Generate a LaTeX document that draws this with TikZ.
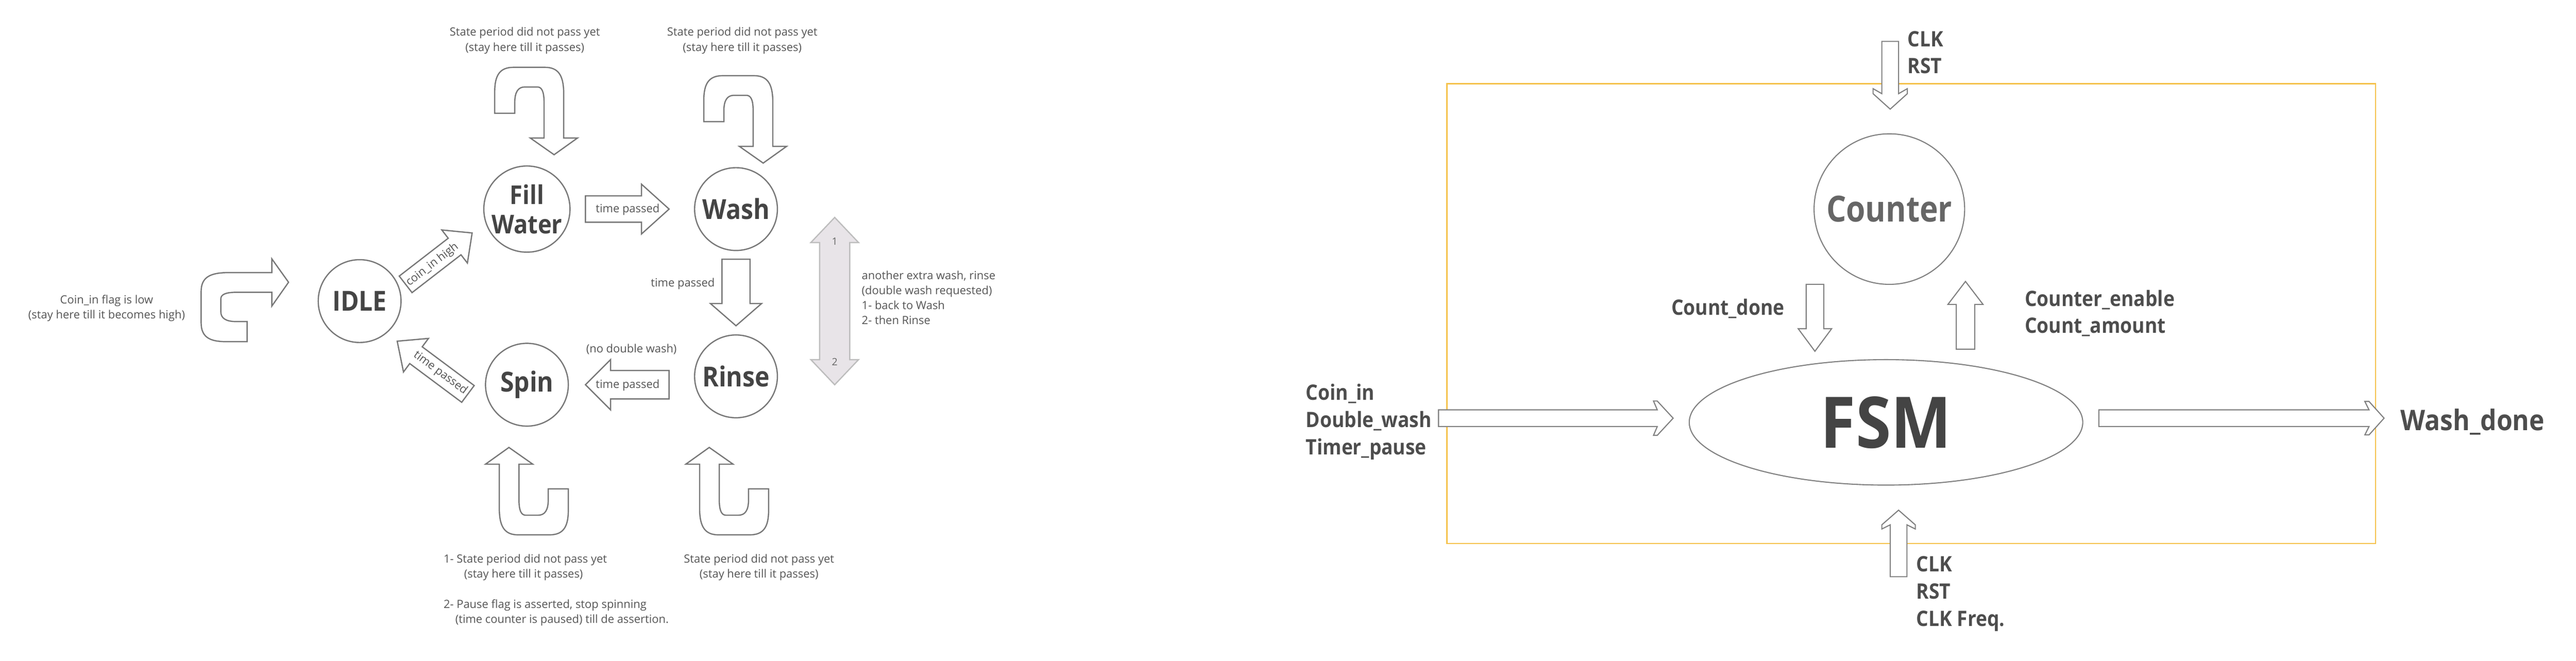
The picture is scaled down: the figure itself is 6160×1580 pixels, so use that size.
\documentclass[tikz,border=0pt]{standalone}
\usepackage{fontspec}
\setmainfont{Open Sans}
\newfontfamily\headfont[FakeStretch=0.9]{Open Sans}
\usetikzlibrary{shapes.geometric}
\definecolor{cstroke}{HTML}{777777}
\definecolor{ctext}{HTML}{444444}
\definecolor{clabel}{HTML}{555555}
\definecolor{rstroke}{HTML}{808080}
\definecolor{rtext}{HTML}{4D4D4D}
\definecolor{ctrtext}{HTML}{666666}
\definecolor{cyellow}{HTML}{F5C24C}
\definecolor{dfill}{HTML}{E8E4E8}
\definecolor{dstroke}{HTML}{BDBDBD}
\definecolor{numtext}{HTML}{666666}
\tikzset{
  state/.style={circle, draw=cstroke, line width=0.75pt, minimum size=49.5pt, inner sep=0pt,
    text=ctext, font=\headfont\bfseries\fontsize{16.5}{17.5}\selectfont, align=center},
  lbl/.style={text=clabel, font=\fontsize{6.75}{9}\selectfont, inner sep=0pt},
  blockarr/.style={draw=cstroke, line width=0.75pt, fill=white, line join=miter},
  thinarr/.style={draw=rstroke, line width=0.65pt, fill=white, line join=miter},
  dblarr/.style={draw=dstroke, line width=0.75pt, fill=dfill, line join=miter},
  rlbl/.style={text=rtext, font=\headfont\bfseries\fontsize{12.7}{16.25}\selectfont, inner sep=0pt, align=left},
}
% straight block arrow: [style] {tail x,y}{angle}{length}{shaft half width}{head half width}{head length}
\newcommand\blockarrow[7][]{%
  \draw[blockarr,#1,shift={(#2)},rotate=#3]
    (0,-#5) -- ({#4-#7},-#5) -- ({#4-#7},-#6) -- (#4,0) -- ({#4-#7},#6) -- ({#4-#7},#5) -- (0,#5) -- cycle;}
% thin arrow with notched barbs
\newcommand\notcharrow[8][]{%
  \draw[thinarr,#1,shift={(#2)},rotate=#3]
    (0,-#5) -- ({#4-#7},-#5) -- ({#4-#7-#8},-#6) -- ({#4-#7},-#6) -- (#4,0)
    -- ({#4-#7},#6) -- ({#4-#7-#8},#6) -- ({#4-#7},#5) -- (0,#5) -- cycle;}
% U-turn self-loop arrow, given its tip and rotation
\newcommand\selfloop[2]{%
  \draw[blockarr,shift={(#1)},rotate=#2]
    (-142,-99) -- (-142,-150) .. controls (-142,-190) and (-130,-209) .. (-97,-209)
    -- (-22,-209) .. controls (10,-209) and (22,-190) .. (23,-150)
    -- (23,-40) -- (56,-40) -- (0,0) -- (-57,-40) -- (-24,-40)
    -- (-24,-125) .. controls (-24,-150) and (-29,-162) .. (-40,-162)
    -- (-70,-162) .. controls (-86,-162) and (-94,-150) .. (-94,-125)
    -- (-94,-99) -- cycle;}
\begin{document}
\begin{tikzpicture}[x=0.25pt,y=-0.25pt]
\useasboundingbox (0,0) rectangle (6160,1580);
\fill[white] (0,0) rectangle (6160,1580);

% ---------------- left: state diagram ----------------
\node[state] (idle) at (860,720) {IDLE};
\node[state, font=\headfont\bfseries\fontsize{15.5}{17.5}\selectfont] (fill) at (1260,500) {Fill\\Water};
\node[state] (wash) at (1760,500) {Wash};
\node[state] (spin) at (1260,920) {Spin};
\node[state] (rinse) at (1760,900) {Rinse};

% self loops
\selfloop{690,675}{90}
\selfloop{1325,370}{0}
\selfloop{1825,390}{0}
\selfloop{1217,1070}{180}
\selfloop{1696,1070}{180}

% transitions
\blockarrow{970,680}{37.7}{201}{25}{50}{53}
\blockarrow{1119,942}{143.3}{211}{25}{50}{56}
\blockarrow{1400,500}{0}{200}{31.5}{59.5}{66}
\blockarrow{1760,620}{-90}{159}{33.5}{61}{53}
\blockarrow{1600,920}{180}{200}{34}{60}{60}

% double wash arrow
\draw[dblarr] (1996,520) -- (2053,580) -- (2032,580) -- (2032,860) -- (2053,860) -- (1996,920)
  -- (1939,860) -- (1960,860) -- (1960,580) -- (1939,580) -- cycle;
\node[lbl, text=numtext, font=\fontsize{6}{7}\selectfont] (n1) at (1996,577) {1};
\node[lbl, text=numtext, font=\fontsize{6}{7}\selectfont] (n2) at (1996,865) {2};

% labels
\node[lbl] (tp1) at (1501,501) {time passed};
\node[lbl, anchor=east] (tp2) at (1710,678) {time passed};
\node[lbl] (ndw) at (1510,835) {(no double wash)};
\node[lbl] (tp3) at (1501,921) {time passed};
\node[lbl, rotate=37.7] (cih) at (1034,633) {coin\_in high};
\node[lbl, rotate=-36.7] (tp4) at (1053,892) {time passed};

\node[lbl, align=center] (idlenote) at (255,737) {Coin\_in flag is low\\(stay here till it becomes high)};
\node[lbl, align=center] (fillnote) at (1255,97) {State period did not pass yet\\(stay here till it passes)};
\node[lbl, align=center] (washnote) at (1775,97) {State period did not pass yet\\(stay here till it passes)};
\node[lbl, align=center] (rinsenote) at (1815,1357) {State period did not pass yet\\(stay here till it passes)};
\node[lbl, align=left, anchor=west] (spinnote) at (1060,1411)
  {1- State period did not pass yet\\\hspace*{12.25pt}(stay here till it passes)\\[9pt]2- Pause flag is asserted, stop spinning\\\hspace*{7pt}(time counter is paused) till de assertion.};
\node[lbl, align=left, anchor=west] (dblnote) at (2060,712)
  {another extra wash, rinse\\(double wash requested)\\1- back to Wash\\2- then Rinse};

% ---------------- right: block diagram ----------------
\draw[cyellow, line width=0.75pt] (3460,200) rectangle (5681,1300);
\node[circle, draw=rstroke, line width=0.65pt, minimum size=90pt, inner sep=0pt, text=ctrtext,
  font=\headfont\bfseries\fontsize{21.5}{26}\selectfont] (counter) at (4518,500) {\scalebox{0.96}[1]{Counter}};
\node[ellipse, draw=rstroke, line width=0.65pt, minimum width=235.25pt, minimum height=75pt, inner sep=0pt,
  text=ctext, font=\headfont\bfseries\fontsize{42.5}{50}\selectfont] (fsm) at (4510,1010) {FSM};

\notcharrow{4520,99}{-90}{162}{20}{41}{37}{12}
\notcharrow{4540,1379}{90}{159}{20}{40}{35}{10}
\notcharrow{3440,1000}{0}{561}{20}{41}{38}{9}
\notcharrow{5019,1000}{0}{682}{20}{40}{36}{10}
\notcharrow{4340,680}{-90}{160}{21}{40}{54}{0}
\notcharrow{4700,835}{90}{162}{22}{42}{55}{0}

% multi-line nodes: the base anchor is the baseline of the last line
\node[rlbl, anchor=base west] (clkt) at (4561,176) {CLK\\RST};
\node[rlbl, anchor=base east] (cdone) at (4268,753) {Count\_done};
\node[rlbl, anchor=base west] (cen) at (4841,797) {Counter\_enable\\Count\_amount};
\node[rlbl, anchor=base west] (inp) at (3122,1087) {Coin\_in\\Double\_wash\\Timer\_pause};
\node[rlbl, anchor=base west] (clkb) at (4582,1497) {CLK\\RST\\CLK Freq.};
\node[rlbl, font=\headfont\bfseries\fontsize{17}{20}\selectfont, anchor=base west] (wdone) at (5740,1029) {Wash\_done};
\end{tikzpicture}
\end{document}
